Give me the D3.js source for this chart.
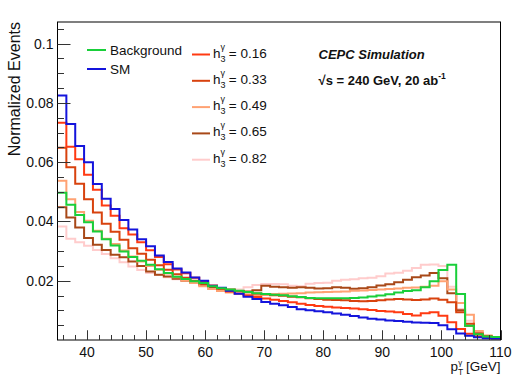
<!DOCTYPE html>
<html>
<head>
<meta charset="utf-8">
<script src="https://cdn.jsdelivr.net/npm/d3@7"></script>
<style>
  body { margin: 0; background: #fff; }
  text { font-family: "Liberation Sans", Arial, sans-serif; fill: #111; }
</style>
</head>
<body>
<div id="chart"></div>
<script>
// bin edges of the pT histogram, 1.5 GeV wide
const binEdges = d3.range(35, 110.01, 1.5);

const bkg = [0.0497, 0.0456, 0.0422, 0.0397, 0.0366, 0.0340, 0.0319, 0.0299, 0.0280, 0.0267,
  0.0254, 0.0239, 0.0226, 0.0213, 0.0206, 0.0198, 0.0192, 0.0181, 0.0175, 0.0170,
  0.0166, 0.0162, 0.0158, 0.0155, 0.0153, 0.0151, 0.0148, 0.0145, 0.0142, 0.0141,
  0.0141, 0.0141, 0.0141, 0.0142, 0.0143, 0.0147, 0.0150, 0.0154, 0.0160, 0.0165,
  0.0168, 0.0178, 0.0198, 0.0236, 0.0254, 0.0155, 0.0048, 0.0019, 0.0012, 0.0010];

const sm = [0.0825, 0.0729, 0.0655, 0.0600, 0.0526, 0.0477, 0.0442, 0.0405, 0.0373, 0.0340,
  0.0316, 0.0285, 0.0263, 0.0241, 0.0228, 0.0211, 0.0200, 0.0183, 0.0176, 0.0166,
  0.0156, 0.0146, 0.0138, 0.0128, 0.0122, 0.0117, 0.0111, 0.0104, 0.0100, 0.0097,
  0.0094, 0.0089, 0.0085, 0.0081, 0.0076, 0.0072, 0.0069, 0.0066, 0.0064, 0.0062,
  0.0059, 0.0058, 0.0057, 0.0050, 0.0036, 0.0022, 0.0014, 0.0009, 0.0006, 0.0005];

const h016 = [0.0733, 0.0652, 0.0610, 0.0558, 0.0507, 0.0454, 0.0419, 0.0377, 0.0356, 0.0330,
  0.0303, 0.0280, 0.0256, 0.0238, 0.0225, 0.0210, 0.0199, 0.0184, 0.0173, 0.0164,
  0.0157, 0.0150, 0.0145, 0.0140, 0.0136, 0.0132, 0.0127, 0.0122, 0.0118, 0.0115,
  0.0112, 0.0110, 0.0108, 0.0106, 0.0104, 0.0101, 0.0098, 0.0096, 0.0094, 0.0088,
  0.0083, 0.0090, 0.0094, 0.0082, 0.0060, 0.0037, 0.0021, 0.0013, 0.0009, 0.0006];

const h033 = [0.0649, 0.0583, 0.0527, 0.0475, 0.0430, 0.0392, 0.0365, 0.0338, 0.0310, 0.0291,
  0.0271, 0.0252, 0.0237, 0.0222, 0.0210, 0.0200, 0.0191, 0.0182, 0.0175, 0.0170,
  0.0165, 0.0161, 0.0157, 0.0154, 0.0151, 0.0149, 0.0146, 0.0144, 0.0141, 0.0138,
  0.0136, 0.0135, 0.0134, 0.0132, 0.0131, 0.0132, 0.0134, 0.0137, 0.0138, 0.0137,
  0.0135, 0.0137, 0.0140, 0.0136, 0.0127, 0.0094, 0.0055, 0.0022, 0.0013, 0.0008];

const h049 = [0.0537, 0.0475, 0.0432, 0.0402, 0.0369, 0.0342, 0.0324, 0.0302, 0.0282, 0.0265,
  0.0250, 0.0237, 0.0224, 0.0212, 0.0200, 0.0192, 0.0181, 0.0172, 0.0165, 0.0160,
  0.0156, 0.0153, 0.0152, 0.0153, 0.0155, 0.0156, 0.0157, 0.0158, 0.0160, 0.0161,
  0.0162, 0.0163, 0.0164, 0.0166, 0.0167, 0.0169, 0.0170, 0.0172, 0.0174, 0.0176,
  0.0177, 0.0180, 0.0183, 0.0198, 0.0170, 0.0125, 0.0085, 0.0030, 0.0015, 0.0008];

const h065 = [0.0448, 0.0413, 0.0380, 0.0344, 0.0321, 0.0304, 0.0288, 0.0279, 0.0265, 0.0250,
  0.0231, 0.0220, 0.0214, 0.0207, 0.0200, 0.0193, 0.0186, 0.0178, 0.0172, 0.0168,
  0.0165, 0.0164, 0.0168, 0.0183, 0.0180, 0.0178, 0.0176, 0.0178, 0.0176, 0.0174,
  0.0175, 0.0178, 0.0176, 0.0173, 0.0175, 0.0178, 0.0184, 0.0188, 0.0195, 0.0203,
  0.0212, 0.0218, 0.0226, 0.0208, 0.0158, 0.0100, 0.0048, 0.0022, 0.0012, 0.0008];

const h082 = [0.0383, 0.0342, 0.0330, 0.0318, 0.0304, 0.0290, 0.0276, 0.0262, 0.0248, 0.0236,
  0.0226, 0.0219, 0.0212, 0.0205, 0.0199, 0.0193, 0.0184, 0.0174, 0.0168, 0.0166,
  0.0170, 0.0178, 0.0186, 0.0189, 0.0189, 0.0188, 0.0183, 0.0181, 0.0190, 0.0192,
  0.0193, 0.0200, 0.0203, 0.0205, 0.0208, 0.0210, 0.0215, 0.0224, 0.0227, 0.0234,
  0.0243, 0.0254, 0.0255, 0.0250, 0.0180, 0.0105, 0.0065, 0.0028, 0.0014, 0.0008];

const couplings = ['0.16', '0.33', '0.49', '0.65', '0.82'];
const yTicks = [0.02, 0.04, 0.06, 0.08, 0.1];
const xTicks = [40, 50, 60, 70, 80, 90, 100, 110];

const series = [
  {name: 'Background', values: bkg, color: '#19cf3a'},
  {name: 'SM', values: sm, color: '#1414dc'},
  {name: couplings[0], values: h016, color: '#ff3a12'},
  {name: couplings[1], values: h033, color: '#d8420e'},
  {name: couplings[2], values: h049, color: '#ffa273'},
  {name: couplings[3], values: h065, color: '#a84818'},
  {name: couplings[4], values: h082, color: '#ffcccc'},
];

const width = 532;
const height = 382;
const margin = {top: 22, right: 31.5, bottom: 42, left: 57.5};

const svg = d3.select('#chart').append('svg')
    .attr('width', width)
    .attr('height', height);

const x = d3.scaleLinear().domain([35, 110]).range([margin.left, width - margin.right]);
const y = d3.scaleLinear().domain([0, 0.1073]).range([height - margin.bottom, margin.top]);

// histograms, drawn as steps
const line = d3.line()
    .x(function(d) { return x(d[0]); })
    .y(function(d) { return y(d[1]); })
    .curve(d3.curveStepAfter);

const plot = svg.append('g');
series.slice().reverse().forEach(function(s) {
  const pts = s.values.map(function(v, i) { return [binEdges[i], v]; });
  pts.push([binEdges[s.values.length], s.values[s.values.length - 1]]);
  plot.append('path')
      .attr('d', line(pts))
      .attr('fill', 'none')
      .attr('stroke', s.color)
      .attr('stroke-width', 2);
});

// frame
svg.append('rect')
    .attr('x', x(35))
    .attr('y', y.range()[1])
    .attr('width', x(110) - x(35))
    .attr('height', y(0) - y.range()[1])
    .attr('fill', 'none')
    .attr('stroke', '#000')
    .attr('stroke-width', 1);

// y ticks
const yMinor = d3.range(0.005, 0.1073, 0.005);
svg.append('g').selectAll('line').data(yMinor).join('line')
    .attr('x1', x(35))
    .attr('x2', function(d) {
      return x(35) + (yTicks.some(function(t) { return Math.abs(t - d) < 1e-6; }) ? 13 : 6.5);
    })
    .attr('y1', function(d) { return Math.round(y(d)) + 0.5; })
    .attr('y2', function(d) { return Math.round(y(d)) + 0.5; })
    .attr('stroke', '#333');

svg.append('g').selectAll('text').data(yTicks).join('text')
    .attr('x', x(35) - 4)
    .attr('y', function(d) { return y(d) + 5; })
    .attr('text-anchor', 'end')
    .attr('font-size', 14)
    .text(function(d) { return d === 0.1 ? '0.1' : d3.format('.2f')(d); });

// x ticks
const xMinor = d3.range(36, 110.5, 2);
svg.append('g').selectAll('line').data(xMinor.concat(xTicks)).join('line')
    .attr('x1', function(d) { return Math.round(x(d)) + 0.5; })
    .attr('x2', function(d) { return Math.round(x(d)) + 0.5; })
    .attr('y1', y(0))
    .attr('y2', function(d) { return y(0) - (xTicks.indexOf(d) >= 0 ? 9.5 : 5); })
    .attr('stroke', '#333');

svg.append('g').selectAll('text').data(xTicks).join('text')
    .attr('x', function(d) { return x(d); })
    .attr('y', y(0) + 16.5)
    .attr('text-anchor', 'middle')
    .attr('font-size', 14)
    .text(function(d) { return d; });

// axis titles
svg.append('text')
    .attr('transform', 'translate(20,' + margin.top + ') rotate(-90)')
    .attr('text-anchor', 'end')
    .attr('font-size', 16)
    .text('Normalized Events');

const xt = svg.append('text')
    .attr('x', x(110))
    .attr('y', 371)
    .attr('text-anchor', 'end')
    .attr('font-size', 13.5);
xt.append('tspan').text('p');
xt.append('tspan').attr('font-size', 8.5).attr('dy', 4).text('T');
xt.append('tspan').attr('font-size', 8).attr('dx', -5).attr('dy', -10).text('γ');
xt.append('tspan').attr('dy', 6).text(' [GeV]');

// legend
const leg1 = [series[0], series[1]];
const lg = svg.append('g');
leg1.forEach(function(s, i) {
  const ly = 50 + i * 19;
  lg.append('line')
      .attr('x1', 87).attr('x2', 106)
      .attr('y1', ly).attr('y2', ly)
      .attr('stroke', s.color).attr('stroke-width', 2);
  lg.append('text')
      .attr('x', 110).attr('y', ly + 5)
      .attr('font-size', 13.5)
      .text(s.name);
});

series.slice(2).forEach(function(s, i) {
  const ly = 54.5 + i * 26.3;
  lg.append('line')
      .attr('x1', 192).attr('x2', 210)
      .attr('y1', ly).attr('y2', ly)
      .attr('stroke', s.color).attr('stroke-width', 2);
  const t = lg.append('text')
      .attr('x', 213).attr('y', ly + 3)
      .attr('font-size', 13.5);
  t.append('tspan').text('h');
  t.append('tspan').attr('font-size', 9).attr('dy', 4).text('3');
  t.append('tspan').attr('font-size', 9).attr('dx', -5).attr('dy', -12).text('γ');
  t.append('tspan').attr('dy', 8).text(' = ' + s.name);
});

// labels
svg.append('text')
    .attr('x', 318.5).attr('y', 59)
    .attr('font-size', 13)
    .attr('font-weight', 'bold')
    .attr('font-style', 'italic')
    .text('CEPC Simulation');

const lab = svg.append('text')
    .attr('x', 318.5).attr('y', 85)
    .attr('font-size', 13)
    .attr('font-weight', 'bold');
lab.append('tspan').text('√s = 240 GeV, 20 ab');
lab.append('tspan').attr('font-size', 8.5).attr('dy', -6).text('-1');
</script>
</body>
</html>
